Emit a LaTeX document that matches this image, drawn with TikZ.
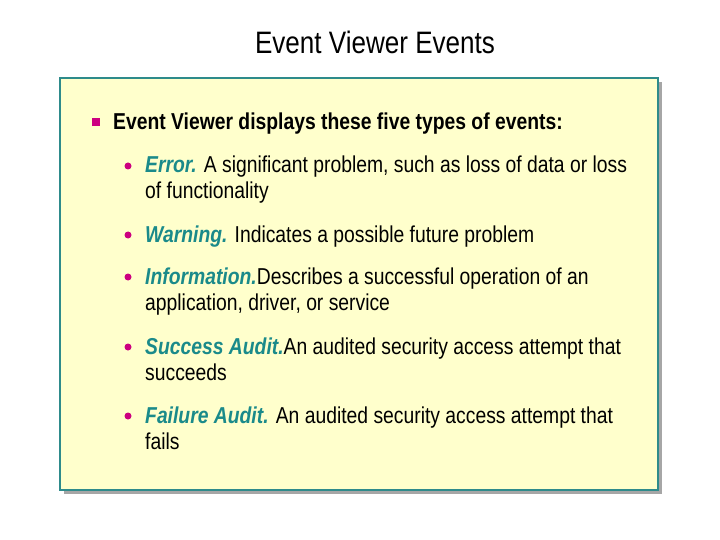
\documentclass[tikz,border=0pt]{standalone}
\usepackage{fontspec}
\setmainfont[FakeStretch=0.84]{Liberation Sans}
\definecolor{bx}{HTML}{FFFFCC}
\definecolor{bd}{HTML}{2E8B8B}
\definecolor{kw}{HTML}{1A8A8A}
\definecolor{mg}{HTML}{CC0080}
\begin{document}
\begin{tikzpicture}[x=1pt,y=-1pt,
  txt/.style={anchor=base west,inner sep=0pt,font=\fontsize{23}{26}\selectfont,align=left},
  dot/.style={circle,fill=mg,inner sep=0pt,minimum size=7pt}]
\useasboundingbox (0,0) rectangle (720,540);
\fill[gray!70] (64,82) rectangle (662,494);
\draw[bd,fill=bx,line width=1.2pt] (60,78) rectangle (658,490);
\node[inner sep=0pt,anchor=base,font=\fontsize{31}{34}\selectfont] (title) at (375,54) {Event Viewer Events};
\node[fill=mg,inner sep=0pt,minimum size=8pt] (sq) at (96,122) {};
\node[txt,font=\fontsize{23}{26}\selectfont\bfseries] (head) at (113,130) {Event Viewer displays these five types of events:};
\newcommand{\kk}[1]{\textcolor{kw}{\bfseries\itshape #1}}
\node[dot] (d1) at (128,166) {};
\node[txt] (t1) at (145,199) {\kk{Error.} A significant problem, such as loss of data or loss\\of functionality};
\node[dot] (d2) at (128,235) {};
\node[txt] (t2) at (145,242) {\kk{Warning.} Indicates a possible future problem};
\node[dot] (d3) at (128,277) {};
\node[txt] (t3) at (145,310) {\kk{Information.}Describes a successful operation of an\\application, driver, or service};
\node[dot] (d4) at (128,347) {};
\node[txt] (t4) at (145,380) {\kk{Success Audit.}An audited security access attempt that\\succeeds};
\node[dot] (d5) at (128,416) {};
\node[txt] (t5) at (145,449) {\kk{Failure Audit.} An audited security access attempt that\\fails};
\end{tikzpicture}
\end{document}
